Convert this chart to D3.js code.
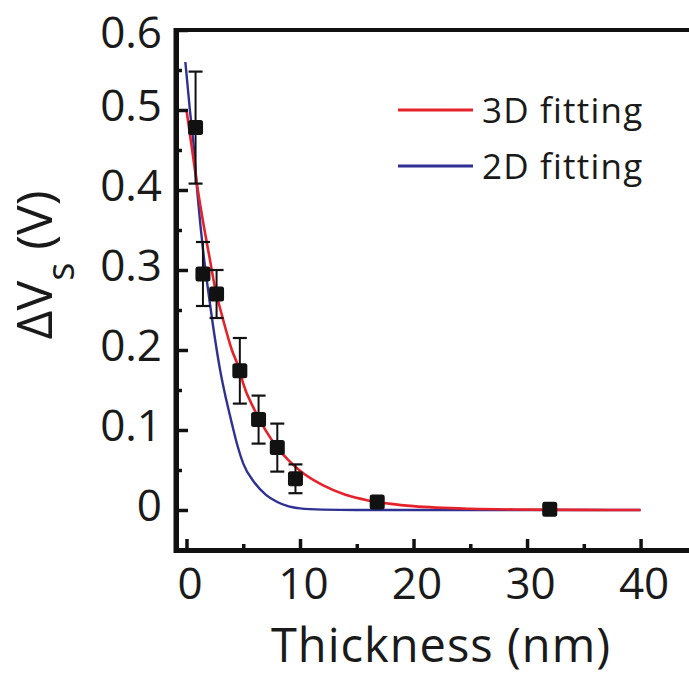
<!DOCTYPE html>
<html><head><meta charset="utf-8">
<script src="https://cdn.jsdelivr.net/npm/d3@7/dist/d3.min.js"></script>
<style>
body{margin:0;background:#fff;}
svg{display:block;}
text{font-family:"Open Sans",sans-serif;fill:#1a1a1a;}
</style>
</head><body>
<svg id="c" width="689" height="677"></svg>
<script>
// ---- data ----
const thickness = [0.8, 1.45, 2.65, 4.7, 6.35, 8.0, 9.6, 16.8, 32.0];
const dVs       = [0.478, 0.295, 0.270, 0.174, 0.113, 0.078, 0.039, 0.010, 0.001];
const dVsErr    = [0.070, 0.040, 0.030, 0.041, 0.030, 0.030, 0.018, 0.004, 0.004];

const fit3D_x = [0, 0.5, 1, 1.5, 2, 2.6, 3, 4, 4.7, 5, 6, 7, 8, 9, 10, 12, 14, 16, 18, 20, 25, 30, 35, 40];
const fit3D_y = [0.50, 0.45, 0.40, 0.357, 0.318, 0.272, 0.25, 0.20, 0.174, 0.158, 0.125, 0.099, 0.078, 0.062, 0.049, 0.031, 0.019, 0.012, 0.0077, 0.0048, 0.0015, 0.0005, 0.0001, 0];

const fit2D_x = [-0.1, 0.3, 0.6, 1.0, 1.5, 2.0, 2.5, 3.0, 3.5, 4.0, 4.5, 5.0, 6.0, 7.0, 8.0, 9.0, 10, 12, 15, 20, 30, 40];
const fit2D_y = [0.56, 0.50, 0.46, 0.39, 0.32, 0.265, 0.215, 0.172, 0.138, 0.108, 0.08, 0.058, 0.034, 0.019, 0.010, 0.0045, 0.002, 0.0005, 0, 0, 0, 0];

const xMajor = [0, 10, 20, 30, 40];
const xMinor = [5, 15, 25, 35, 45];
const yMajor = [0, 0.1, 0.2, 0.3, 0.4, 0.5, 0.6];
const yMinor = [0.05, 0.15, 0.25, 0.35, 0.45, 0.55];
const yTickLabels = ["0", "0.1", "0.2", "0.3", "0.4", "0.5", "0.6"];

const legendLabels = ["3D fitting", "2D fitting"];
const colors = {red: "#e5222b", blue: "#2e3192"};

// ---- layout ----
const svg = d3.select("#c");
const x = d3.scaleLinear().domain([-0.95, 45.5]).range([175.7, 703]);
const y = d3.scaleLinear().domain([-0.05, 0.6]).range([550, 30]);

// curves
const line = d3.line().x(d => x(d[0])).y(d => y(d[1])).curve(d3.curveMonotoneX);
svg.append("path").datum(d3.zip(fit2D_x, fit2D_y)).attr("d", line)
  .attr("fill", "none").attr("stroke", colors.blue).attr("stroke-width", 2.4);
svg.append("path").datum(d3.zip(fit3D_x, fit3D_y)).attr("d", line)
  .attr("fill", "none").attr("stroke", colors.red).attr("stroke-width", 2.6);

// error bars + markers
const pts = d3.range(thickness.length).map(i => ({x: thickness[i], y: dVs[i], e: dVsErr[i]}));
const g = svg.append("g");
const capW = 7;
pts.forEach(p => {
  const cx = x(p.x), top = y(p.y + p.e), bot = y(p.y - p.e);
  g.append("line").attr("x1", cx).attr("x2", cx).attr("y1", top).attr("y2", bot)
    .attr("stroke", "#111").attr("stroke-width", 2);
  [top, bot].forEach(yy => g.append("line").attr("x1", cx - capW).attr("x2", cx + capW)
    .attr("y1", yy).attr("y2", yy).attr("stroke", "#111").attr("stroke-width", 2.2));
  g.append("rect").attr("x", cx - 7.5).attr("y", y(p.y) - 7.5).attr("width", 15).attr("height", 15)
    .attr("rx", 2.5).attr("fill", "#111");
});

// axes
const axX = svg.append("g").attr("transform", "translate(0,550)")
  .call(d3.axisBottom(x).tickValues(xMajor).tickFormat(d3.format("d")).tickSizeInner(-11).tickSizeOuter(0).tickPadding(18));
axX.select(".domain").attr("stroke", "#111").attr("stroke-width", 5);
axX.selectAll(".tick line").attr("stroke", "#111").attr("stroke-width", 3.5);
axX.selectAll(".tick text").attr("font-size", 44).attr("font-family", "Open Sans").attr("fill", "#1a1a1a")
  .attr("dx", 3);
svg.append("g").attr("transform", "translate(0,550)")
  .call(d3.axisBottom(x).tickValues(xMinor).tickFormat("").tickSizeInner(-6).tickSizeOuter(0))
  .call(s => s.select(".domain").remove())
  .selectAll(".tick line").attr("stroke", "#111").attr("stroke-width", 3.5);

const axY = svg.append("g").attr("transform", "translate(176,0)")
  .call(d3.axisLeft(y).tickValues(yMajor).tickFormat((d, i) => yTickLabels[i]).tickSizeInner(-12).tickSizeOuter(0).tickPadding(14));
axY.select(".domain").attr("stroke", "#111").attr("stroke-width", 5);
axY.selectAll(".tick line").attr("stroke", "#111").attr("stroke-width", 3.5);
axY.selectAll(".tick text").attr("font-size", 44).attr("font-family", "Open Sans").attr("fill", "#1a1a1a")
  .attr("dy", d => d === 0.6 ? "0.39em" : "0.24em");
svg.append("g").attr("transform", "translate(176,0)")
  .call(d3.axisLeft(y).tickValues(yMinor).tickFormat("").tickSizeInner(-6).tickSizeOuter(0))
  .call(s => s.select(".domain").remove())
  .selectAll(".tick line").attr("stroke", "#111").attr("stroke-width", 3.5);

// top border
svg.append("line").attr("x1", 174).attr("x2", 703).attr("y1", y(0.6)).attr("y2", y(0.6))
  .attr("stroke", "#111").attr("stroke-width", 4);
// left axis extension to the corner
svg.append("line").attr("x1", 176).attr("x2", 176).attr("y1", 28).attr("y2", 553)
  .attr("stroke", "#111").attr("stroke-width", 5);

// axis titles
svg.append("text").attr("x", 441).attr("y", 662).attr("text-anchor", "middle")
  .attr("font-size", 47).attr("letter-spacing", 1).text("Thickness (nm)");

const yt = svg.append("text").attr("transform", "translate(52,265) rotate(-90)")
  .attr("text-anchor", "middle").attr("font-size", 50);
yt.append("tspan").text("ΔV");
yt.append("tspan").attr("font-size", 38).attr("dy", 22).text("s");
yt.append("tspan").attr("dy", -22).text(" (V)");

// legend
const leg = svg.append("g");
[[colors.red, 110], [colors.blue, 166]].forEach((c, i) => {
  leg.append("line").attr("x1", 398).attr("x2", 473).attr("y1", c[1]).attr("y2", c[1])
    .attr("stroke", c[0]).attr("stroke-width", 2.8);
  leg.append("text").attr("x", 482).attr("y", c[1]).attr("dy", "0.36em")
    .attr("font-size", 35).attr("letter-spacing", 1.2).text(legendLabels[i]);
});
</script>
</body></html>
